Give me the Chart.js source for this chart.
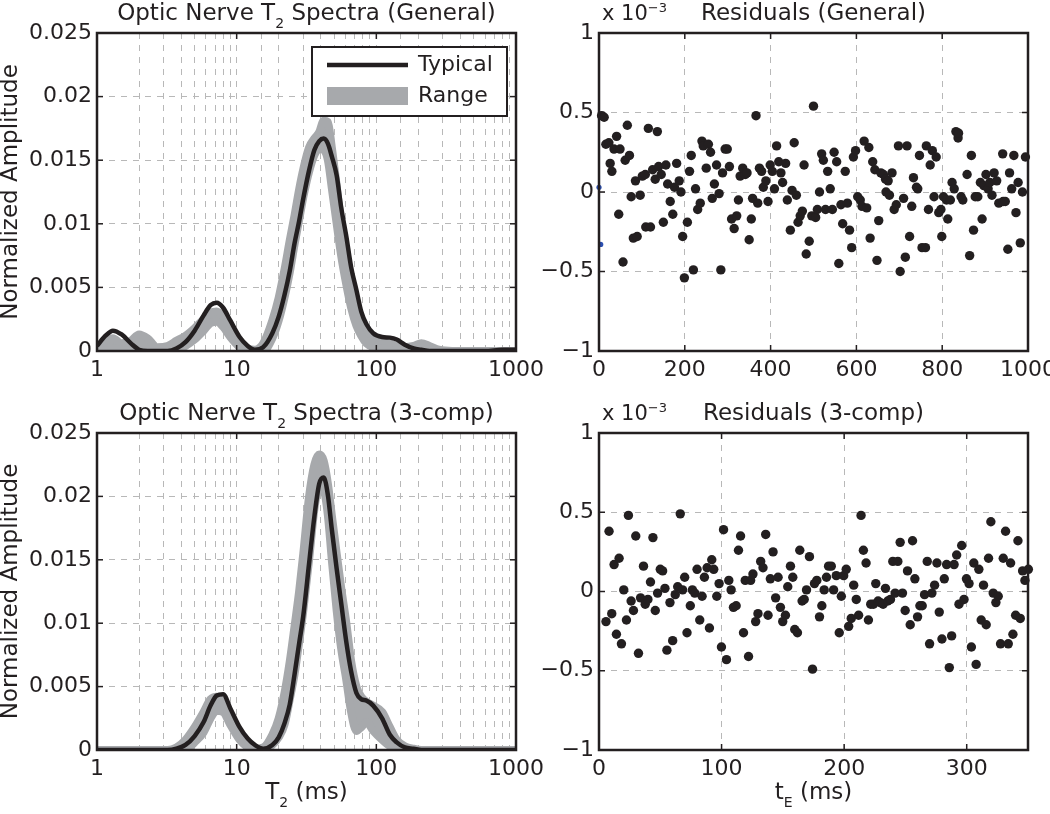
<!DOCTYPE html>
<html>
<head>
<meta charset="utf-8">
<script src="https://cdn.jsdelivr.net/npm/chart.js@4.4.1/dist/chart.umd.min.js"></script>
<style>
  html, body { margin: 0; padding: 0; background: #fff; overflow: hidden; }
  #wrap { position: relative; width: 1050px; height: 814px; overflow: hidden; }
  canvas { position: absolute; }
</style>
</head>
<body>
<div id="wrap">
  <canvas id="specGeneral" width="560" height="400" style="left:0;top:0"></canvas>
  <canvas id="resGeneral" width="540" height="400" style="left:540px;top:0"></canvas>
  <canvas id="specComp" width="560" height="414" style="left:0;top:400px"></canvas>
  <canvas id="resComp" width="540" height="414" style="left:540px;top:400px"></canvas>
</div>
<script>
const FONT = 'DejaVu Sans';
const INK = '#231f20';
const BAND = '#a7a9ac';
const GRID = '#b8b8b8';

// T2 sample positions (ms), shared by both spectra
const t2 = [1, 1.15, 1.3, 1.5, 1.75, 2, 2.3, 2.7, 3.2, 3.7, 4.3, 5, 5.8, 6.5, 7.2, 8, 9, 10.5, 12, 13.5,
  15.5, 18, 20, 22, 24, 26, 28, 30, 33, 36, 39, 42, 45, 48, 52, 56, 61, 66, 72, 78,
  85, 95, 110, 125, 140, 160, 185, 210, 240, 280, 350, 450, 600, 800, 900, 1000];

// general fit
const generalTypical = [0.0004, 0.0012, 0.0016, 0.0013, 0.0006, 0.0001, 0, 0, 0, 0.0002, 0.0007, 0.0016, 0.0028, 0.0036, 0.0038, 0.0034, 0.0024, 0.0011, 0.0004, 0.0001,
  0.0003, 0.0014, 0.0027, 0.0044, 0.0063, 0.0085, 0.0102, 0.0120, 0.0142, 0.0158, 0.0165, 0.0167, 0.0163, 0.0153, 0.0138, 0.0113, 0.0090, 0.0066, 0.0048, 0.0031,
  0.0021, 0.0014, 0.0011, 0.00105, 0.0009, 0.0005, 0.0002, 0.0001, 0, 0, 0, 0, 0, 0.0001, 0.0001, 0.0001];
const generalRangeHi = [0.0003, 0.0008, 0.0010, 0.0006, 0.0008, 0.0013, 0.0010, 0.0003, 0.0004, 0.0008, 0.0012, 0.0018, 0.0025, 0.0030, 0.0031, 0.0027, 0.0018, 0.0007, 0.0002, 0.0001,
  0.0006, 0.0024, 0.0042, 0.0064, 0.0087, 0.0107, 0.0127, 0.0143, 0.0160, 0.0167, 0.0172, 0.0181, 0.0180, 0.0160, 0.0130, 0.0100, 0.0072, 0.0050, 0.0034, 0.0022,
  0.0013, 0.0009, 0.0007, 0.0006, 0.0004, 0.0003, 0.0004, 0.0006, 0.0004, 0.0001, 0, 0, 0, 0, 0, 0];
const generalRangeLo = [0, 0, 0.0002, 0.0001, 0, 0, 0, 0, 0, 0.0001, 0.0004, 0.0009, 0.0016, 0.0022, 0.0023, 0.0019, 0.0011, 0.0003, 0, 0,
  0, 0.0010, 0.0024, 0.0042, 0.0062, 0.0084, 0.0103, 0.0121, 0.0141, 0.0154, 0.0159, 0.0158, 0.0150, 0.0128, 0.0100, 0.0075, 0.0052, 0.0034, 0.0020, 0.0012,
  0.0006, 0.0003, 0.0002, 0.0001, 0, 0, 0, 0, 0, 0, 0, 0, 0, 0, 0, 0];

// 3-comp fit
const compTypical = [0, 0, 0, 0, 0, 0, 0, 0, 0, 0.0001, 0.0004, 0.0011, 0.0022, 0.0035, 0.0043, 0.0044, 0.0033, 0.0018, 0.0009, 0.0004,
  0.0001, 0.0004, 0.0010, 0.0021, 0.0036, 0.0060, 0.0084, 0.0106, 0.0147, 0.0184, 0.0210, 0.0215, 0.0201, 0.0174, 0.0143, 0.0116, 0.0085, 0.0062, 0.0045, 0.0040,
  0.0039, 0.0035, 0.0025, 0.0012, 0.0006, 0.0002, 0.0001, 0, 0, 0, 0, 0, 0, 0, 0, 0];
const compRangeHi = [0, 0, 0, 0, 0, 0, 0, 0, 0, 0.0002, 0.0008, 0.0018, 0.0030, 0.0040, 0.0042, 0.0037, 0.0024, 0.0010, 0.0004, 0.0001,
  0.0002, 0.0012, 0.0025, 0.0045, 0.0070, 0.0098, 0.0125, 0.0155, 0.0200, 0.0225, 0.0233, 0.0228, 0.0210, 0.0185, 0.0155, 0.0128, 0.0100, 0.0070, 0.0050, 0.0042,
  0.0038, 0.0035, 0.0030, 0.0018, 0.0008, 0.0003, 0.0001, 0, 0, 0, 0, 0, 0, 0, 0, 0];
const compRangeLo = [0, 0, 0, 0, 0, 0, 0, 0, 0, 0, 0, 0.0006, 0.0014, 0.0025, 0.0031, 0.0030, 0.0020, 0.0008, 0.0002, 0,
  0, 0.0004, 0.0010, 0.0020, 0.0040, 0.0060, 0.0085, 0.0110, 0.0150, 0.0190, 0.0208, 0.0205, 0.0185, 0.0150, 0.0110, 0.0080, 0.0055, 0.0030, 0.0015, 0.0018,
  0.0022, 0.0015, 0.0008, 0.0003, 0.0001, 0, 0, 0, 0, 0, 0, 0, 0, 0, 0, 0];

// residuals, x 1e-3
const generalTE = [6, 12, 16, 23, 26, 30, 35, 41, 46, 49, 56, 61, 66, 71, 75, 80, 85, 89, 96, 101,
  108, 109, 115, 120, 125, 131, 136, 139, 145, 150, 156, 160, 166, 172, 176, 181, 187, 191, 195, 199,
  206, 211, 215, 220, 225, 230, 236, 240, 243, 250, 255, 260, 264, 269, 274, 280, 284, 288, 294, 299,
  304, 309, 315, 321, 325, 329, 335, 341, 345, 350, 355, 358, 366, 370, 374, 379, 383, 389, 394, 399,
  404, 409, 414, 419, 424, 428, 435, 439, 446, 450, 455, 460, 464, 469, 474, 478, 483, 490, 496, 500,
  505, 509, 514, 519, 523, 528, 533, 539, 544, 548, 554, 559, 564, 568, 574, 579, 584, 589, 593, 598,
  603, 609, 613, 618, 624, 629, 632, 638, 643, 648, 652, 657, 663, 668, 669, 674, 677, 683, 688, 693,
  698, 702, 710, 714, 718, 724, 729, 733, 740, 743, 747, 753, 761, 763, 768, 772, 777, 781, 786, 792,
  797, 799, 803, 810, 813, 819, 823, 828, 832, 837, 838, 844, 848, 858, 864, 868, 873, 877, 883, 889,
  893, 897, 902, 907, 911, 916, 921, 927, 932, 941, 942, 947, 953, 957, 962, 967, 972, 977, 982, 987, 994];
const generalRes = [0.48, 0.47, 0.30, 0.31, 0.18, 0.13, 0.27, 0.35, -0.14, 0.27, -0.44, 0.20, 0.42, 0.23, -0.03, -0.29, 0.07, -0.28, -0.02, 0.10,
  0.11, -0.22, 0.40, -0.22, 0.14, 0.08, 0.38, 0.16, 0.11, -0.19, 0.17, 0.05, -0.06, -0.14, 0.03, 0.18, 0.07, 0.00, -0.28, -0.54,
  -0.19, 0.13, 0.23, -0.49, 0.02, -0.11, -0.07, 0.32, 0.29, 0.15, 0.30, 0.25, -0.04, 0.05, 0.17, -0.01, -0.49, 0.12, 0.27, 0.27,
  0.16, -0.17, -0.23, -0.15, -0.05, 0.10, 0.15, 0.11, 0.12, -0.30, -0.17, -0.04, 0.48, -0.07, 0.15, 0.13, 0.03, 0.07, -0.06, 0.17,
  0.13, 0.02, 0.29, 0.19, 0.12, 0.06, 0.18, -0.05, -0.24, 0.01, 0.31, -0.02, -0.19, -0.15, -0.12, 0.17, -0.39, -0.31, -0.15, 0.54,
  -0.16, -0.11, 0.00, 0.24, 0.20, -0.11, 0.13, 0.02, -0.11, 0.25, 0.19, -0.45, -0.08, -0.20, 0.13, -0.07, -0.24, -0.35, 0.22, 0.26,
  -0.03, -0.05, -0.09, 0.32, -0.10, 0.28, -0.29, 0.19, 0.14, -0.43, -0.18, 0.12, 0.11, 0.08, 0.00, 0.07, -0.02, 0.12, -0.11, -0.08,
  0.29, -0.50, -0.04, -0.41, 0.29, -0.28, -0.09, 0.09, 0.03, 0.02, 0.23, -0.35, -0.35, 0.29, -0.11, 0.17, 0.26, -0.03, 0.22, -0.13,
  -0.11, -0.28, -0.03, -0.05, -0.17, -0.05, 0.06, 0.02, 0.38, 0.34, 0.37, -0.03, -0.05, 0.11, -0.40, 0.23, -0.24, -0.03, -0.03, 0.06,
  -0.17, 0.04, 0.11, 0.02, 0.06, -0.02, 0.12, 0.07, -0.07, 0.24, -0.06, -0.06, -0.36, 0.12, 0.02, 0.23, -0.13, 0.06, -0.32, 0.00, 0.22];
const generalStrayTE = [0, 4];
const generalStrayRes = [0.03, -0.33];

const compTE = [5.7, 8.2, 10.4, 12.3, 14.2, 16.4, 18.3, 20.2, 22.4, 24, 26.2, 28.1, 30, 32.2, 33.9, 36.3, 37.7, 39.9, 42, 44,
  45.9, 47.8, 50, 51.9, 53.8, 55.4, 57.9, 60.1, 62.2, 64.2, 66.3, 68.2, 69.9, 71.8, 74.5, 76.2, 78.1, 80, 82.2, 84.1,
  86, 88.2, 90.1, 92, 93.6, 96.1, 98, 99.9, 101.6, 104, 105.9, 107.8, 109.7, 111.9, 113.8, 115.5, 117.9, 119.3, 122, 123.7,
  125.6, 127.8, 129.7, 131.9, 133.8, 136, 137.9, 139.8, 142, 144.1, 146.1, 148, 149.9, 152.1, 154, 156.2, 158.1, 159.7, 161.9, 163.8,
  165.7, 167.4, 169.3, 171.7, 174.2, 175.8, 177.7, 179.9, 181.8, 183.7, 185.6, 187.3, 189.5, 191.4, 193.6, 196, 197.7, 199.6, 201.7, 203.7,
  205.8, 207.8, 209.9, 211.8, 213.8, 215.7, 217.9, 219.8, 221.7, 223.9, 225.8, 227.7, 229.6, 231.8, 233.7, 235.6, 237.8, 239.7, 241.6, 243.8,
  245.7, 247.6, 249.8, 251.7, 253.9, 255.8, 257.7, 259.9, 261.8, 263.7, 265.6, 267.8, 269.7, 271.6, 273.8, 275.7, 277.6, 279.8, 281.7, 283.6,
  285.8, 287.7, 289.7, 291.8, 293.7, 295.9, 297.8, 299.8, 301.9, 303.8, 305.8, 307.7, 309.9, 311.8, 313.7, 315.9, 317.8, 319.7, 321.6, 323.8,
  325.7, 327.6, 329.8, 331.7, 333.9, 335.8, 337.7, 339.9, 341.8, 343.7, 345.6, 347.5, 350.3];
const compRes = [-0.19, 0.38, -0.14, 0.17, -0.27, 0.21, -0.33, 0.01, -0.18, 0.48, -0.06, -0.12, 0.35, -0.39, -0.04, 0.16, -0.08, -0.05, 0.06, 0.34,
  -0.12, -0.01, 0.14, 0.13, 0.02, -0.37, -0.07, -0.31, -0.02, 0.03, 0.49, 0.01, 0.09, -0.26, -0.09, 0.01, -0.01, 0.14, -0.18, -0.03,
  0.09, 0.15, -0.23, 0.20, 0.14, -0.03, 0.05, -0.35, 0.39, -0.43, 0.07, 0.01, -0.10, -0.09, 0.26, 0.35, -0.26, 0.07, -0.41, 0.07,
  0.11, -0.19, -0.14, 0.19, 0.15, 0.36, -0.15, 0.08, 0.25, -0.04, 0.09, -0.10, -0.19, -0.15, 0.03, 0.16, 0.09, -0.24, -0.26, 0.26,
  -0.06, -0.05, 0.01, 0.22, -0.49, 0.05, 0.07, -0.16, -0.09, 0.01, 0.09, 0.16, 0.16, 0.01, 0.10, -0.26, -0.03, 0.10, 0.14, -0.22,
  -0.17, 0.04, -0.05, -0.15, 0.48, 0.26, 0.18, -0.18, -0.08, -0.08, 0.05, -0.06, -0.07, -0.08, 0.02, -0.06, -0.05, 0.19, -0.01, 0.19,
  0.31, -0.01, -0.12, 0.13, -0.21, 0.32, 0.08, -0.16, -0.09, -0.09, -0.02, 0.19, -0.33, -0.01, 0.04, 0.18, -0.13, -0.30, 0.08, 0.17,
  -0.48, -0.28, 0.17, 0.23, -0.08, 0.29, -0.05, 0.08, 0.05, -0.35, 0.18, -0.46, 0.14, -0.18, 0.04, -0.21, 0.21, 0.44, -0.01, -0.07,
  -0.03, -0.33, 0.21, 0.38, -0.33, 0.18, -0.27, -0.15, 0.32, -0.17, 0.13, 0.07, 0.14];

const decades = [1, 10, 100, 1000];
const isDecade = v => decades.some(d => Math.abs(v - d) < 1e-6);

function rich(ctx, parts, x, y, size, align) {
  const fontOf = k => (k ? Math.round(size * 0.62) : size) + 'px "' + FONT + '"';
  let w = 0;
  parts.forEach(([s, k]) => { ctx.font = fontOf(k); w += ctx.measureText(s).width; });
  let cx = align === 'left' ? x : x - w / 2;
  ctx.fillStyle = INK;
  ctx.textAlign = 'left';
  ctx.textBaseline = 'middle';
  parts.forEach(([s, k]) => {
    ctx.font = fontOf(k);
    const dy = k === 'sub' ? size * 0.45 : k === 'sup' ? -size * 0.32 : 0;
    ctx.fillText(s, cx, y + dy);
    cx += ctx.measureText(s).width;
  });
}

// frame, inward ticks, titles, legend in the MATLAB style
const matlab = {
  id: 'matlab',
  afterDraw(chart, args, o) {
    const { ctx, chartArea: a, scales: { x, y } } = chart;
    const seg = (x1, y1, x2, y2) => { ctx.beginPath(); ctx.moveTo(x1, y1); ctx.lineTo(x2, y2); ctx.stroke(); };
    ctx.save();
    ctx.strokeStyle = INK;
    ctx.lineWidth = 1.5;
    x.ticks.forEach(t => {
      if (o.logX ? !isDecade(t.value) : t.value % o.xStep !== 0) return;
      const px = x.getPixelForValue(t.value);
      seg(px, a.bottom, px, a.bottom - 6);
      seg(px, a.top, px, a.top + 6);
    });
    y.ticks.forEach(t => {
      const py = y.getPixelForValue(t.value);
      seg(a.left, py, a.left + 6, py);
      seg(a.right, py, a.right - 6, py);
    });
    ctx.lineWidth = 2.5;
    ctx.strokeRect(a.left, a.top, a.right - a.left, a.bottom - a.top);

    const mid = (a.left + a.right) / 2;
    rich(ctx, o.title, mid, 14, 23);
    if (o.xTitle) rich(ctx, o.xTitle, mid, chart.height - 21, 23);
    if (o.exponent) rich(ctx, [['x 10', ''], ['\u22123', 'sup']], a.left + 3, 15, 21, 'left');

    if (o.legend) {
      const bx = a.right - 204, by = a.top + 14, bw = 195, bh = 69;
      ctx.fillStyle = '#fff';
      ctx.fillRect(bx, by, bw, bh);
      ctx.lineWidth = 2;
      ctx.strokeRect(bx, by, bw, bh);
      ctx.lineWidth = 4.5;
      seg(bx + 15, by + 18, bx + 96, by + 18);
      ctx.fillStyle = BAND;
      ctx.fillRect(bx + 15, by + 40, 81, 18);
      rich(ctx, [['Typical', '']], bx + 106, by + 18, 22, 'left');
      rich(ctx, [['Range', '']], bx + 106, by + 49, 22, 'left');
    }
    ctx.restore();
  }
};

const tickFont = { family: FONT, size: 22 };
const gridOpts = { color: GRID, lineWidth: 1, drawTicks: false };
const borderOpts = { display: false, dash: [6, 6] };

function spectraChart(id, typical, hi, lo, title, xTitle, legend) {
  const pts = arr => t2.map((t, i) => ({ x: t, y: arr[i] }));
  const xH = xTitle ? 64 : 49;
  return new Chart(document.getElementById(id), {
    type: 'line',
    data: {
      datasets: [
        { label: 'Typical', data: pts(typical), borderColor: INK, borderWidth: 4.5, pointRadius: 0,
          cubicInterpolationMode: 'monotone', fill: false, borderJoinStyle: 'round' },
        { label: 'Range low', data: pts(lo), borderColor: BAND, borderWidth: 8, pointRadius: 0,
          cubicInterpolationMode: 'monotone', fill: false },
        { label: 'Range', data: pts(hi), borderColor: BAND, backgroundColor: BAND, borderWidth: 8, pointRadius: 0,
          cubicInterpolationMode: 'monotone', fill: 1 }
      ]
    },
    options: {
      responsive: false,
      animation: false,
      layout: { padding: { top: 33, right: 44, left: 0, bottom: 0 } },
      plugins: {
        legend: { display: false },
        tooltip: { enabled: false },
        matlab: { title, xTitle, legend, logX: true }
      },
      scales: {
        x: {
          type: 'logarithmic', min: 1, max: 1000,
          afterFit: s => { s.height = xH; },
          grid: gridOpts, border: borderOpts,
          ticks: { autoSkip: false, maxRotation: 0, padding: 6, color: INK, font: tickFont,
            callback: v => isDecade(v) ? String(Math.round(v)) : '' }
        },
        y: {
          min: 0, max: 0.025,
          afterFit: s => { s.width = 97; },
          grid: gridOpts, border: borderOpts,
          ticks: { stepSize: 0.005, padding: 5, color: INK, font: tickFont,
            callback: v => String(+v.toFixed(3)) },
          title: { display: true, text: 'Normalized Amplitude', color: INK, padding: 0,
            font: { family: FONT, size: 23, lineHeight: 1 } }
        }
      }
    },
    plugins: [matlab]
  });
}

function residualChart(id, te, res, xMax, xStep, title, xTitle, strayTE, strayRes) {
  const datasets = [{
    data: te.map((t, i) => ({ x: t, y: res[i] })),
    backgroundColor: INK, borderWidth: 0, pointRadius: 4.7, clip: false
  }];
  if (strayTE) {
    datasets.push({
      data: strayTE.map((t, i) => ({ x: t, y: strayRes[i] })),
      backgroundColor: '#2b4fb0', borderWidth: 0, pointRadius: 2.6, clip: false
    });
  }
  const xH = xTitle ? 64 : 49;
  return new Chart(document.getElementById(id), {
    type: 'scatter',
    data: { datasets },
    options: {
      responsive: false,
      animation: false,
      layout: { padding: { top: 33, right: 52, left: 0, bottom: 0 } },
      plugins: {
        legend: { display: false },
        tooltip: { enabled: false },
        matlab: { title, xTitle, exponent: true, xStep }
      },
      scales: {
        x: {
          type: 'linear', min: 0, max: xMax,
          afterFit: s => { s.height = xH; },
          grid: gridOpts, border: borderOpts,
          ticks: { stepSize: xStep, includeBounds: false, maxRotation: 0, padding: 6, color: INK, font: tickFont,
            callback: v => String(v) }
        },
        y: {
          min: -1, max: 1,
          afterFit: s => { s.width = 59; },
          grid: gridOpts, border: borderOpts,
          ticks: { stepSize: 0.5, padding: 5, color: INK, font: tickFont,
            callback: v => v === 0 ? '0' : (v < 0 ? '\u2212' + Math.abs(v) : String(v)) }
        }
      }
    },
    plugins: [matlab]
  });
}

spectraChart('specGeneral', generalTypical, generalRangeHi, generalRangeLo,
  [['Optic Nerve T', ''], ['2', 'sub'], [' Spectra (General)', '']], null, true);
spectraChart('specComp', compTypical, compRangeHi, compRangeLo,
  [['Optic Nerve T', ''], ['2', 'sub'], [' Spectra (3-comp)', '']],
  [['T', ''], ['2', 'sub'], [' (ms)', '']], false);
residualChart('resGeneral', generalTE, generalRes, 1000, 200,
  [['Residuals (General)', '']], null, generalStrayTE, generalStrayRes);
residualChart('resComp', compTE, compRes, 350, 100,
  [['Residuals (3-comp)', '']], [['t', ''], ['E', 'sub'], [' (ms)', '']]);
</script>
</body>
</html>
